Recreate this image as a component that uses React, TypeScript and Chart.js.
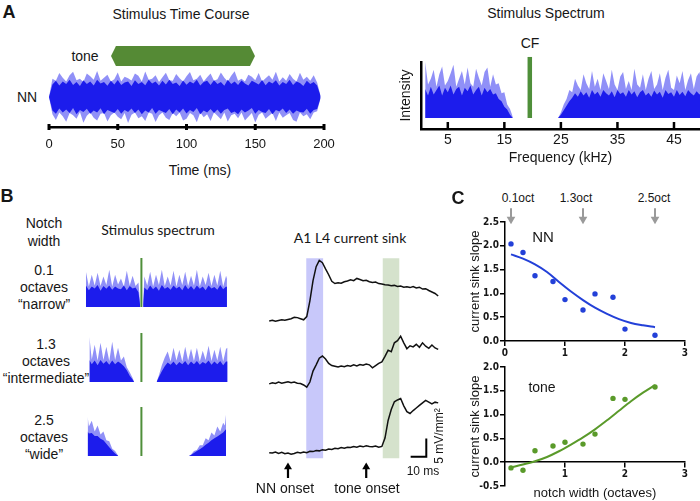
import React, { useEffect, useRef } from "react";
import { Chart, registerables } from "chart.js";

Chart.register(...registerables);

const SANS = "'Liberation Sans', Arial, Helvetica, sans-serif";
const NARROW = "'Liberation Sans Narrow', 'DejaVu Sans Condensed', 'Liberation Sans', sans-serif";
const CAL = "Lato, 'Open Sans', sans-serif";
const INK = "#161616";
const BLUE_CORE = "rgb(28,28,236)";
const BLUE_SPIKE = "rgba(70,70,242,0.6)";
const TONE_GREEN = "#558a35";
const CF_GREEN = "#4f8f3a";
const NN_BLUE = "#2340d8";
const FIT_GREEN = "#5a9a2a";
const BAND_BLUE = "rgb(200,200,250)";
const BAND_GREEN = "rgb(213,226,204)";

// ---------------- Panel A: stimulus time course ----------------
const tcTicks = [0, 50, 100, 150, 200];
const tcTime = [
  0, 2.5, 5, 7.5, 10, 12.5, 15, 17.5, 20, 22.5,
  25, 27.5, 30, 32.5, 35, 37.5, 40, 42.5, 45, 47.5,
  50, 52.5, 55, 57.5, 60, 62.5, 65, 67.5, 70, 72.5,
  75, 77.5, 80, 82.5, 85, 87.5, 90, 92.5, 95, 97.5,
  100, 102.5, 105, 107.5, 110, 112.5, 115, 117.5, 120, 122.5,
  125, 127.5, 130, 132.5, 135, 137.5, 140, 142.5, 145, 147.5,
  150, 152.5, 155, 157.5, 160, 162.5, 165, 167.5, 170, 172.5,
  175, 177.5, 180, 182.5, 185, 187.5, 190, 192.5, 195, 197.5,
];
const tcSpikeUp = [
  0, 0.7, 0.62, 0.92, 0.74, 0.6, 0.84, 0.97, 0.64, 0.7,
  0.58, 0.9, 0.8, 0.66, 1.0, 0.62, 0.74, 0.86, 0.6, 0.68,
  0.94, 0.6, 0.78, 0.72, 0.63, 0.9, 0.82, 0.6, 0.98, 0.66,
  0.7, 0.84, 0.58, 0.76, 0.93, 0.64, 0.62, 0.88, 0.72, 0.6,
  0.8, 0.96, 0.64, 0.7, 0.86, 0.6, 0.76, 0.9, 0.62, 0.68,
  0.94, 0.74, 0.6, 0.82, 0.99, 0.62, 0.7, 0.6, 0.86, 0.78,
  0.64, 0.92, 0.6, 0.72, 0.84, 0.66, 0.97, 0.6, 0.76, 0.62,
  0.88, 0.7, 0.6, 0.93, 0.66, 0.78, 0.62, 0.84, 0.56, 0.05,
];
const tcSpikeLo = [
  0, -0.66, -0.88, -0.6, -0.74, -0.95, -0.62, -0.7, -0.84, -0.58,
  -0.99, -0.72, -0.6, -0.8, -0.9, -0.64, -0.62, -0.94, -0.7, -0.6,
  -0.76, -0.86, -0.62, -1.0, -0.68, -0.6, -0.82, -0.74, -0.92, -0.6,
  -0.64, -0.96, -0.7, -0.6, -0.8, -0.88, -0.62, -0.74, -0.6, -0.9,
  -0.84, -0.62, -0.7, -0.97, -0.6, -0.78, -0.66, -0.92, -0.6, -0.72,
  -0.86, -0.6, -0.94, -0.7, -0.64, -0.82, -0.6, -0.9, -0.76, -0.62,
  -0.98, -0.68, -0.6, -0.84, -0.72, -0.62, -0.92, -0.6, -0.8, -0.7,
  -0.62, -0.88, -0.95, -0.6, -0.74, -0.66, -0.86, -0.6, -0.55, -0.05,
];
const tcCoreUp = [
  0, 0.48, 0.62, 0.44, 0.6, 0.5, 0.66, 0.46, 0.58, 0.42,
  0.64, 0.5, 0.6, 0.44, 0.66, 0.52, 0.58, 0.43, 0.62, 0.48,
  0.65, 0.46, 0.56, 0.6, 0.42, 0.64, 0.5, 0.58, 0.45, 0.66,
  0.52, 0.6, 0.44, 0.62, 0.48, 0.66, 0.5, 0.56, 0.42, 0.63,
  0.47, 0.6, 0.52, 0.66, 0.44, 0.58, 0.62, 0.46, 0.64, 0.5,
  0.58, 0.43, 0.66, 0.5, 0.6, 0.46, 0.63, 0.52, 0.44, 0.62,
  0.56, 0.48, 0.65, 0.45, 0.6, 0.52, 0.64, 0.44, 0.58, 0.5,
  0.66, 0.46, 0.6, 0.54, 0.42, 0.62, 0.5, 0.58, 0.44, 0.04,
];
const tcCoreLo = [
  0, -0.52, -0.64, -0.44, -0.6, -0.48, -0.62, -0.42, -0.66, -0.5,
  -0.58, -0.45, -0.64, -0.52, -0.6, -0.43, -0.66, -0.5, -0.56, -0.62,
  -0.46, -0.64, -0.5, -0.58, -0.44, -0.62, -0.48, -0.66, -0.52, -0.6,
  -0.42, -0.64, -0.5, -0.56, -0.62, -0.46, -0.66, -0.48, -0.6, -0.44,
  -0.63, -0.5, -0.58, -0.42, -0.66, -0.52, -0.6, -0.46, -0.62, -0.48,
  -0.64, -0.5, -0.44, -0.62, -0.56, -0.66, -0.48, -0.6, -0.52, -0.42,
  -0.64, -0.5, -0.58, -0.62, -0.46, -0.66, -0.5, -0.56, -0.44, -0.62,
  -0.48, -0.64, -0.52, -0.58, -0.6, -0.45, -0.64, -0.5, -0.46, -0.04,
];
const toneT = [45.1, 48.7, 146.2, 149.8];
const toneTop = [1.58, 1.96, 1.96, 1.58];
const toneBottom = [1.58, 1.19, 1.19, 1.58];

// ---------------- Panel A: stimulus spectrum ----------------
const specTicks = [5, 15, 25, 35, 45];
const cfFreq = 19.5;
const cfLevel = 1.09;
const specLeftF = [1, 1.5, 2, 2.5, 3, 3.5, 4, 4.5, 5, 5.5, 6, 6.5, 7, 7.5, 8, 8.5, 9, 9.5, 10, 10.5, 11, 11.5, 12, 12.5, 13, 13.5, 14, 14.5, 15, 15.5, 16, 16.5];
const specLeftSpike = [1.0, 0.6, 0.7, 0.86, 0.56, 0.78, 0.92, 0.58, 0.66, 0.8, 0.95, 0.56, 0.7, 0.84, 0.6, 0.9, 0.62, 0.56, 0.88, 0.72, 0.58, 0.82, 0.9, 0.56, 0.78, 0.6, 0.62, 0.44, 0.46, 0.24, 0.16, 0.02];
const specLeftCore = [0.52, 0.4, 0.56, 0.42, 0.5, 0.58, 0.4, 0.54, 0.46, 0.58, 0.42, 0.52, 0.56, 0.4, 0.54, 0.48, 0.58, 0.42, 0.5, 0.56, 0.4, 0.54, 0.46, 0.52, 0.42, 0.44, 0.34, 0.3, 0.2, 0.15, 0.06, 0];
const specRightF = [24.5, 25, 25.5, 26, 26.5, 27, 27.5, 28, 28.5, 29, 29.5, 30, 30.5, 31, 31.5, 32, 32.5, 33, 33.5, 34, 34.5, 35, 35.5, 36, 36.5, 37, 37.5, 38, 38.5, 39, 39.5, 40, 40.5, 41, 41.5, 42, 42.5, 43, 43.5, 44, 44.5, 45, 45.5, 46, 46.5, 47, 47.5, 48, 48.5, 49, 49.5, 50];
const specRightSpike = [
  0, 0.1, 0.24, 0.34, 0.5, 0.46, 0.7, 0.58, 0.5, 0.78,
  0.62, 0.52, 0.84, 0.56, 0.7, 0.5, 0.8, 0.66, 0.52, 0.86,
  0.6, 0.5, 0.74, 0.82, 0.52, 0.66, 0.5, 0.88, 0.6, 0.54,
  0.78, 0.5, 0.7, 0.84, 0.52, 0.6, 0.8, 0.5, 0.72, 0.86,
  0.54, 0.5, 0.76, 0.62, 0.84, 0.5, 0.68, 0.8, 0.52, 0.74,
  0.82, 0.56,
];
const specRightCore = [
  0, 0.06, 0.14, 0.22, 0.3, 0.36, 0.44, 0.38, 0.48, 0.4,
  0.46, 0.36, 0.5, 0.42, 0.47, 0.38, 0.5, 0.44, 0.4, 0.48,
  0.37, 0.5, 0.43, 0.46, 0.38, 0.5, 0.42, 0.48, 0.37, 0.46,
  0.5, 0.4, 0.45, 0.38, 0.49, 0.42, 0.47, 0.36, 0.5, 0.43,
  0.46, 0.38, 0.5, 0.41, 0.47, 0.39, 0.5, 0.44, 0.4, 0.48,
  0.42, 0.46,
];

// ---------------- Panel B: notched spectra (kHz, relative intensity) ----------------
const notchTone = 20;
const n1LeftF = [1, 2, 3, 4, 5, 6, 7, 8, 9, 10, 11, 12, 13, 14, 15, 16, 17, 18, 19, 19.6];
const n1LeftSpike = [0.72, 0.42, 0.66, 0.44, 0.7, 0.43, 0.62, 0.45, 0.76, 0.42, 0.66, 0.46, 0.58, 0.42, 0.74, 0.44, 0.64, 0.43, 0.5, 0.04];
const n1LeftCore = [0.44, 0.34, 0.42, 0.38, 0.45, 0.33, 0.43, 0.37, 0.44, 0.35, 0.42, 0.38, 0.36, 0.44, 0.34, 0.43, 0.38, 0.4, 0.3, 0.02];
const n1RightF = [20.6, 21, 22, 23, 24, 25, 26, 27, 28, 29, 30, 31, 32, 33, 34, 35, 36, 37, 38, 39, 40, 41, 42, 43, 44, 45, 46, 47, 48, 49, 49.3];
const n1RightSpike = [0.1, 0.62, 0.44, 0.72, 0.42, 0.66, 0.45, 0.76, 0.43, 0.62, 0.44, 0.74, 0.42, 0.66, 0.45, 0.72, 0.43, 0.64, 0.44, 0.76, 0.42, 0.62, 0.45, 0.7, 0.43, 0.66, 0.44, 0.74, 0.42, 0.64, 0.58];
const n1RightCore = [0.06, 0.4, 0.34, 0.44, 0.36, 0.42, 0.33, 0.45, 0.37, 0.41, 0.35, 0.44, 0.38, 0.42, 0.34, 0.45, 0.36, 0.43, 0.35, 0.44, 0.37, 0.42, 0.34, 0.44, 0.38, 0.41, 0.35, 0.45, 0.36, 0.42, 0.41];

const n2LeftF = [2.2, 3, 4, 5, 6, 7, 8, 9, 10, 11, 12, 13, 14, 15, 16, 17, 17.5];
const n2LeftSpike = [0.92, 0.46, 0.76, 0.44, 0.8, 0.45, 0.72, 0.43, 0.82, 0.45, 0.7, 0.44, 0.52, 0.3, 0.2, 0.08, 0];
const n2LeftCore = [0.45, 0.36, 0.44, 0.34, 0.45, 0.37, 0.43, 0.35, 0.44, 0.36, 0.42, 0.38, 0.32, 0.24, 0.13, 0.05, 0];
const n2RightF = [25.2, 26, 27, 28, 29, 30, 31, 32, 33, 34, 35, 36, 37, 38, 39, 40, 41, 42, 43, 44, 45, 46, 47, 48, 49, 49.5];
const n2RightSpike = [0, 0.14, 0.34, 0.5, 0.62, 0.42, 0.7, 0.44, 0.66, 0.42, 0.72, 0.44, 0.68, 0.43, 0.7, 0.42, 0.64, 0.45, 0.74, 0.43, 0.66, 0.44, 0.72, 0.42, 0.68, 0.7];
const n2RightCore = [0, 0.1, 0.22, 0.32, 0.4, 0.35, 0.42, 0.34, 0.41, 0.36, 0.43, 0.34, 0.42, 0.36, 0.43, 0.35, 0.41, 0.37, 0.44, 0.35, 0.42, 0.36, 0.43, 0.34, 0.42, 0.42];

const n3LeftF = [1.6, 2, 3, 4, 5, 6, 7, 8, 9, 10, 11, 12.1];
const n3LeftSpike = [0.8, 0.6, 0.72, 0.5, 0.62, 0.44, 0.5, 0.32, 0.3, 0.15, 0.1, 0];
const n3LeftCore = [0.5, 0.46, 0.47, 0.41, 0.41, 0.35, 0.32, 0.25, 0.18, 0.11, 0.05, 0];
const n3RightF = [36.3, 37, 38, 39, 40, 41, 42, 43, 44, 45, 46, 47, 48, 48.6, 49];
const n3RightSpike = [0, 0.03, 0.1, 0.12, 0.22, 0.22, 0.36, 0.32, 0.48, 0.42, 0.6, 0.5, 0.68, 0.62, 0.86];
const n3RightCore = [0, 0.02, 0.06, 0.1, 0.14, 0.18, 0.23, 0.27, 0.32, 0.36, 0.4, 0.44, 0.48, 0.52, 0.55];

// ---------------- Panel B: A1 L4 current sink (ms, mV/mm²) ----------------
const sinkTime = [-12, -10, -8, -6, -4, -2, 0, 2, 4, 6, 8, 10, 12, 14, 16, 18, 20, 22, 24, 26, 28, 30, 32, 34, 36, 38, 40, 42, 44, 46, 48, 50, 52, 54, 56, 58, 60, 62, 64, 66, 68, 70, 72, 74, 76, 78, 80, 82, 84, 86, 88, 90, 92, 94, 96];
const sinkNarrow = [0.0, 0.2, -0.1, 0.1, 0.3, 0.2, 0.4, 0.6, 1.0, 0.9, 0.6, 0.3, 1.2, 5.5, 11.0, 14.8, 16.5, 15.9, 14.2, 12.6, 10.8, 10.2, 10.4, 10.3, 10.7, 10.9, 11.2, 11.0, 11.6, 11.3, 11.0, 11.1, 10.7, 10.5, 10.6, 10.2, 10.1, 9.9, 9.8, 9.6, 9.7, 9.4, 9.5, 9.2, 9.3, 9.1, 9.4, 9.0, 9.2, 8.7, 8.8, 8.3, 7.9, 7.5, 6.8];
const sinkInter = [0.0, 0.3, 0.1, 0.5, 0.2, 0.4, 0.6, 0.3, 0.5, 0.2, 0.1, -0.3, -0.9, 0.5, 3.5, 5.2, 7.0, 7.6, 6.8, 5.6, 5.0, 4.8, 4.6, 4.9, 4.7, 5.0, 4.8, 5.2, 4.9, 5.3, 5.1, 5.4, 5.2, 4.4, 5.0, 5.6, 6.0, 7.5, 9.2, 8.8, 11.2, 11.8, 13.0, 11.2, 9.6, 10.4, 10.1, 10.8, 10.0, 11.2, 10.3, 9.7, 10.6, 9.8, 9.4];
const sinkWide = [0.0, -0.1, 0.2, -0.2, 0.1, -0.3, -0.1, -0.4, -0.2, 0.1, -0.1, 0.2, 0.0, 0.4, 0.3, 0.6, 0.5, 0.8, 0.7, 1.0, 0.9, 1.2, 1.1, 1.4, 1.2, 1.5, 1.4, 1.7, 1.5, 1.8, 1.6, 1.9, 1.7, 1.6, 1.8, 1.5, 1.7, 4.0, 8.8, 11.8, 13.9, 14.4, 14.8, 12.8, 11.2, 10.7, 11.5, 12.2, 12.9, 13.6, 14.3, 13.8, 13.3, 13.8, 13.6];
const nnWindow = [11.6, 22.6];
const toneWindow = [60.4, 71.3];
const windowSpan = [17.1, -37.5];
const onsets = [0, 50];
const scaleBarMs = 10;
const scaleBarUnits = 5;
const scaleBarAnchor = [88.4, -1.13];

// ---------------- Panel C ----------------
const notchX = [0.1, 0.3, 0.5, 0.8, 1.0, 1.3, 1.5, 1.8, 2.0, 2.5];
const nnSlope = [2.04, 1.86, 1.37, 1.25, 0.87, 0.65, 0.99, 0.92, 0.25, 0.12];
const toneSlope = [-0.12, -0.17, 0.24, 0.34, 0.42, 0.38, 0.59, 1.34, 1.32, 1.58];
const fitX = [0.1, 0.3, 0.5, 0.7, 0.9, 1.1, 1.3, 1.5, 1.7, 1.9, 2.1, 2.3, 2.5];
const nnFit = [1.82, 1.73, 1.61, 1.45, 1.24, 1.04, 0.86, 0.7, 0.57, 0.46, 0.38, 0.33, 0.29];
const toneFit = [-0.11, -0.05, 0.02, 0.11, 0.23, 0.37, 0.52, 0.69, 0.88, 1.08, 1.28, 1.46, 1.62];
const markedNotches = [0.1, 1.3, 2.5];
const markerSpan = [2.79, 2.56];

// ---------------- helpers ----------------
const pts = (xs: number[], ys: number[]) => xs.map((x, i) => ({ x, y: ys[i] }));
const CLEAR = "rgba(0,0,0,0)";

function area(xs: number[], ys: number[], color: string, order: number, fill: any = "origin", extra: any = {}) {
  return { data: pts(xs, ys), fill, backgroundColor: color, borderColor: CLEAR, borderWidth: 0, pointRadius: 0, order, ...extra };
}
function band(xs: number[], up: number[], lo: number[], color: string, order: number, extra: any = {}) {
  return [area(xs, up, color, order, "+1", extra), area(xs, lo, CLEAR, order, false, extra)];
}

const common = {
  responsive: false,
  animation: false,
  devicePixelRatio: 1,
  events: [],
};
const noPlugins = { legend: { display: false }, tooltip: { enabled: false } };

const innerTicks = {
  id: "innerTicks",
  afterDraw(chart: any, _a: any, opts: any) {
    const sc = chart.scales.x;
    const ctx = chart.ctx;
    const y = chart.chartArea.bottom;
    ctx.save();
    ctx.strokeStyle = "#000";
    ctx.lineWidth = opts.width || 2;
    for (const t of sc.ticks) {
      const px = sc.getPixelForValue(t.value);
      ctx.beginPath();
      ctx.moveTo(px, y + (opts.below || 0));
      ctx.lineTo(px, y - (opts.above || 0));
      ctx.stroke();
    }
    ctx.restore();
  },
};

const setTicks = (vals: number[]) => (s: any) => {
  s.ticks = vals.map((v) => ({ value: v }));
};

function ChartCanvas({ left, top, width, height, make }: any) {
  const ref = useRef<HTMLCanvasElement>(null);
  useEffect(() => {
    const chart = new Chart(ref.current as HTMLCanvasElement, make());
    return () => chart.destroy();
  }, []);
  return <canvas ref={ref} width={width} height={height} style={{ position: "absolute", left, top, width, height }} />;
}

function Txt({ x, y, children, size = 14, weight = 400, family = SANS, rotate = 0, lh }: any) {
  return (
    <div
      style={{
        position: "absolute",
        left: x,
        top: y,
        transform: `translate(-50%,-50%) rotate(${rotate}deg)`,
        fontSize: size,
        fontWeight: weight,
        fontFamily: family,
        lineHeight: lh ? `${lh}px` : 1,
        whiteSpace: "pre",
        textAlign: "center",
        color: INK,
      }}
    >
      {children}
    </div>
  );
}

// ---------------- chart configs ----------------
const timeCourseConfig = () => ({
  type: "line",
  data: {
    datasets: [
      ...band(tcTime, tcSpikeUp, tcSpikeLo, BLUE_SPIKE, 3),
      ...band(tcTime, tcCoreUp, tcCoreLo, BLUE_CORE, 2),
      ...band(toneT, toneTop, toneBottom, TONE_GREEN, 1),
    ],
  },
  options: {
    ...common,
    layout: { padding: { left: 49, right: 21, top: 10, bottom: 0 } },
    scales: {
      x: {
        type: "linear",
        min: 0,
        max: 200,
        afterBuildTicks: setTicks(tcTicks),
        grid: { display: false, drawTicks: false },
        border: { display: true, color: "#000", width: 2.5 },
        ticks: { font: { size: 13, family: SANS }, color: INK, padding: 9.6, maxRotation: 0, autoSkip: false },
        afterFit: (s: any) => { s.height = 53; },
      },
      y: { type: "linear", display: false, min: -1.154, max: 2.192 },
    },
    plugins: { ...noPlugins, innerTicks: { above: 3, below: 3, width: 3 } },
  },
  plugins: [innerTicks],
});

const spectrumConfig = () => ({
  type: "line",
  data: {
    datasets: [
      area(specLeftF, specLeftSpike, BLUE_SPIKE, 3),
      area(specLeftF, specLeftCore, BLUE_CORE, 2),
      area(specRightF, specRightSpike, BLUE_SPIKE, 3),
      area(specRightF, specRightCore, BLUE_CORE, 2),
      { data: [{ x: cfFreq, y: 0 }, { x: cfFreq, y: cfLevel }], borderColor: CF_GREEN, borderWidth: 4.5, pointRadius: 0, fill: false, clip: false, order: 1 },
    ],
  },
  options: {
    ...common,
    layout: { padding: { left: 0, right: 0, top: 22, bottom: 0 } },
    scales: {
      x: {
        type: "linear",
        min: 0.26,
        max: 49.6,
        afterBuildTicks: setTicks(specTicks),
        grid: { display: false, drawTicks: false },
        border: { display: true, color: "#000", width: 2.5 },
        ticks: { font: { size: 14, family: SANS }, color: INK, padding: 3, maxRotation: 0, autoSkip: false },
        title: { display: true, text: "Frequency (kHz)", font: { size: 14, family: SANS }, color: INK, padding: { top: 0, bottom: 3.6 } },
        afterFit: (s: any) => { s.height = 41; },
      },
      y: {
        type: "linear",
        min: -0.196,
        max: 1.0,
        grid: { display: false, drawTicks: false },
        border: { display: true, color: "#000", width: 2.5 },
        ticks: { display: false },
        title: { display: true, text: "Intensity", font: { size: 14, family: SANS }, color: INK, padding: { top: 17.6, bottom: 0 } },
        afterFit: (s: any) => { s.width = 41; },
      },
    },
    plugins: { ...noPlugins, innerTicks: { above: 7, below: 0, width: 2.5 } },
  },
  plugins: [innerTicks],
});

const notchConfig = (lf: number[], ls: number[], lc: number[], rf: number[], rs: number[], rc: number[]) => () => ({
  type: "line",
  data: {
    datasets: [
      area(lf, ls, BLUE_SPIKE, 3),
      area(lf, lc, BLUE_CORE, 2),
      area(rf, rs, BLUE_SPIKE, 3),
      area(rf, rc, BLUE_CORE, 2),
      { data: [{ x: notchTone, y: 0 }, { x: notchTone, y: 1 }], borderColor: CF_GREEN, borderWidth: 2, pointRadius: 0, fill: false, clip: false, order: 1 },
    ],
  },
  options: {
    ...common,
    layout: { padding: { left: 3, right: 6, top: 5, bottom: 2 } },
    scales: {
      x: { type: "linear", display: false, min: 0, max: 50 },
      y: { type: "linear", display: false, min: 0, max: 1 },
    },
    plugins: noPlugins,
  },
});

const sinkConfig = () => {
  const trace = (ys: number[], axis: string) => ({
    data: pts(sinkTime, ys), yAxisID: axis, borderColor: "#111", borderWidth: 1.5, pointRadius: 0, fill: false, order: 1,
  });
  const win = (w: number[], color: string) =>
    band(w, [windowSpan[0], windowSpan[0]], [windowSpan[1], windowSpan[1]], color, 5, { yAxisID: "y1" });
  const arrow = (t: number) => ({
    data: [{ x: t, y: -6.9 }, { x: t, y: -3.9 }], yAxisID: "y3", borderColor: "#000", borderWidth: 2.2,
    pointRadius: [0, 4.6], pointStyle: "triangle", pointBackgroundColor: "#000", pointBorderWidth: 0, fill: false, order: 1,
  });
  const [bx, by] = scaleBarAnchor;
  return {
    type: "line",
    data: {
      datasets: [
        ...win(nnWindow, BAND_BLUE),
        ...win(toneWindow, BAND_GREEN),
        trace(sinkNarrow, "y1"),
        trace(sinkInter, "y2"),
        trace(sinkWide, "y3"),
        ...onsets.map(arrow),
        {
          data: [{ x: bx, y: by + scaleBarUnits }, { x: bx, y: by }, { x: bx - scaleBarMs, y: by }],
          yAxisID: "y3", borderColor: "#000", borderWidth: 2, pointRadius: 0, fill: false, order: 1,
        },
      ],
    },
    options: {
      ...common,
      layout: { padding: 0 },
      scales: {
        x: { type: "linear", display: false, min: -21.34, max: 100.61 },
        y1: { type: "linear", display: false, min: -47.63, max: 19.47 },
        y2: { type: "linear", display: false, min: -30.45, max: 36.66 },
        y3: { type: "linear", display: false, min: -11.66, max: 55.45 },
      },
      plugins: noPlugins,
    },
  };
};

const tickFont = { size: 10, weight: "bold", family: NARROW };
const axisGrid = { display: true, drawOnChartArea: false, drawTicks: true, tickLength: 5, color: "#000", lineWidth: 1.5 };
const axisBorder = { display: true, color: "#000", width: 1.5 };
const yTitle = { display: true, text: "current sink slope", font: { size: 13, family: SANS }, color: INK, padding: { top: 13, bottom: 0 } };

const nnConfig = () => ({
  type: "line",
  data: {
    datasets: [
      { data: pts(fitX, nnFit), borderColor: NN_BLUE, borderWidth: 2, pointRadius: 0, fill: false, cubicInterpolationMode: "monotone", order: 2 },
      { data: pts(notchX, nnSlope), showLine: false, pointRadius: 2.7, pointBackgroundColor: NN_BLUE, pointBorderWidth: 0, order: 1 },
      ...markedNotches.map((x) => ({
        data: [{ x, y: markerSpan[0] }, { x, y: markerSpan[1] }], borderColor: "#9a9a9a", borderWidth: 2,
        pointRadius: [0, 5], pointStyle: "triangle", pointRotation: 180, pointBackgroundColor: "#9a9a9a", pointBorderWidth: 0,
        fill: false, clip: false, order: 3,
      })),
    ],
  },
  options: {
    ...common,
    layout: { padding: { left: 0, right: 15, top: 32, bottom: 0 } },
    scales: {
      x: {
        type: "linear", min: 0, max: 3,
        ticks: { stepSize: 1, font: tickFont, color: INK, padding: 1 },
        grid: axisGrid, border: axisBorder,
        afterFit: (s: any) => { s.height = 24; },
      },
      y: {
        type: "linear", min: 0, max: 2.5,
        ticks: { stepSize: 0.5, font: tickFont, color: INK, padding: 1, callback: (v: any) => Number(v).toFixed(1) },
        grid: axisGrid, border: axisBorder, title: yTitle,
        afterFit: (s: any) => { s.width = 50; },
      },
    },
    plugins: noPlugins,
  },
});

const toneConfig = () => ({
  type: "line",
  data: {
    datasets: [
      { data: pts(fitX, toneFit), borderColor: FIT_GREEN, borderWidth: 2, pointRadius: 0, fill: false, cubicInterpolationMode: "monotone", order: 2 },
      { data: pts(notchX, toneSlope), showLine: false, pointRadius: 2.7, pointBackgroundColor: FIT_GREEN, pointBorderWidth: 0, order: 1 },
    ],
  },
  options: {
    ...common,
    layout: { padding: { left: 0, right: 15, top: 12, bottom: 0 } },
    scales: {
      x: {
        type: "linear", position: { y: 0 }, min: 0, max: 3,
        afterBuildTicks: setTicks([1, 2, 3]),
        ticks: { font: tickFont, color: INK, padding: 1 },
        grid: axisGrid, border: axisBorder,
        afterFit: (s: any) => { s.height = 0; },
      },
      xt: {
        type: "linear", position: "bottom", min: 0, max: 3,
        grid: { display: false, drawTicks: false }, border: { display: false }, ticks: { display: false },
        title: { display: true, text: "notch width (octaves)", font: { size: 13, family: SANS }, color: INK, padding: 0 },
        afterFit: (s: any) => { s.height = 15; },
      },
      y: {
        type: "linear", min: -0.5, max: 2.0,
        ticks: { stepSize: 0.5, font: tickFont, color: INK, padding: 1, callback: (v: any) => Number(v).toFixed(1) },
        grid: axisGrid, border: axisBorder, title: yTitle,
        afterFit: (s: any) => { s.width = 50; },
      },
    },
    plugins: noPlugins,
  },
});

export default function App() {
  useEffect(() => {
    document.body.style.margin = "0";
  }, []);
  return (
    <div style={{ position: "fixed", left: 0, top: 0, width: 700, height: 501, overflow: "hidden", background: "#fff", color: INK, fontFamily: SANS }}>
      {/* Panel A */}
      <Txt x={9} y={12} size={18} weight={700}>A</Txt>
      <Txt x={181} y={14}>Stimulus Time Course</Txt>
      <Txt x={85} y={56}>tone</Txt>
      <Txt x={27} y={97}>NN</Txt>
      <Txt x={200} y={170}>Time (ms)</Txt>
      <ChartCanvas left={0} top={30} width={345} height={150} make={timeCourseConfig} />

      <Txt x={546} y={13}>Stimulus Spectrum</Txt>
      <Txt x={530} y={43}>CF</Txt>
      <ChartCanvas left={380} top={40} width={320} height={130} make={spectrumConfig} />

      {/* Panel B */}
      <Txt x={7} y={196} size={18} weight={700}>B</Txt>
      <Txt x={44} y={232} lh={18}>{"Notch\nwidth"}</Txt>
      <Txt x={158} y={230} family={CAL}>Stimulus spectrum</Txt>
      <Txt x={44} y={287} lh={17}>{"0.1\noctaves\n\u201cnarrow\u201d"}</Txt>
      <Txt x={46} y={361} lh={17}>{"1.3\noctaves\n\u201cintermediate\u201d"}</Txt>
      <Txt x={44} y={437} lh={17}>{"2.5\noctaves\n\u201cwide\u201d"}</Txt>
      <ChartCanvas left={80} top={253} width={155} height={56} make={notchConfig(n1LeftF, n1LeftSpike, n1LeftCore, n1RightF, n1RightSpike, n1RightCore)} />
      <ChartCanvas left={80} top={328} width={155} height={56} make={notchConfig(n2LeftF, n2LeftSpike, n2LeftCore, n2RightF, n2RightSpike, n2RightCore)} />
      <ChartCanvas left={80} top={402} width={155} height={56} make={notchConfig(n3LeftF, n3LeftSpike, n3LeftCore, n3RightF, n3RightSpike, n3RightCore)} />

      <Txt x={350} y={238} family={CAL}>A1 L4 current sink</Txt>
      <ChartCanvas left={250} top={245} width={200} height={255} make={sinkConfig} />
      <Txt x={285} y={488}>NN onset</Txt>
      <Txt x={367} y={488}>tone onset</Txt>
      <Txt x={423} y={471} size={12}>10 ms</Txt>
      <Txt x={439} y={436} size={12} rotate={-90}>5 mV/mm²</Txt>

      {/* Panel C */}
      <Txt x={458} y={198} size={18} weight={700}>C</Txt>
      <Txt x={518} y={198} size={12}>0.1oct</Txt>
      <Txt x={576} y={198} size={12}>1.3oct</Txt>
      <Txt x={654} y={198} size={12}>2.5oct</Txt>
      <ChartCanvas left={455} top={190} width={245} height={175} make={nnConfig} />
      <ChartCanvas left={455} top={355} width={245} height={146} make={toneConfig} />
      <Txt x={543} y={236} size={15}>NN</Txt>
      <Txt x={542} y={387}>tone</Txt>
    </div>
  );
}
